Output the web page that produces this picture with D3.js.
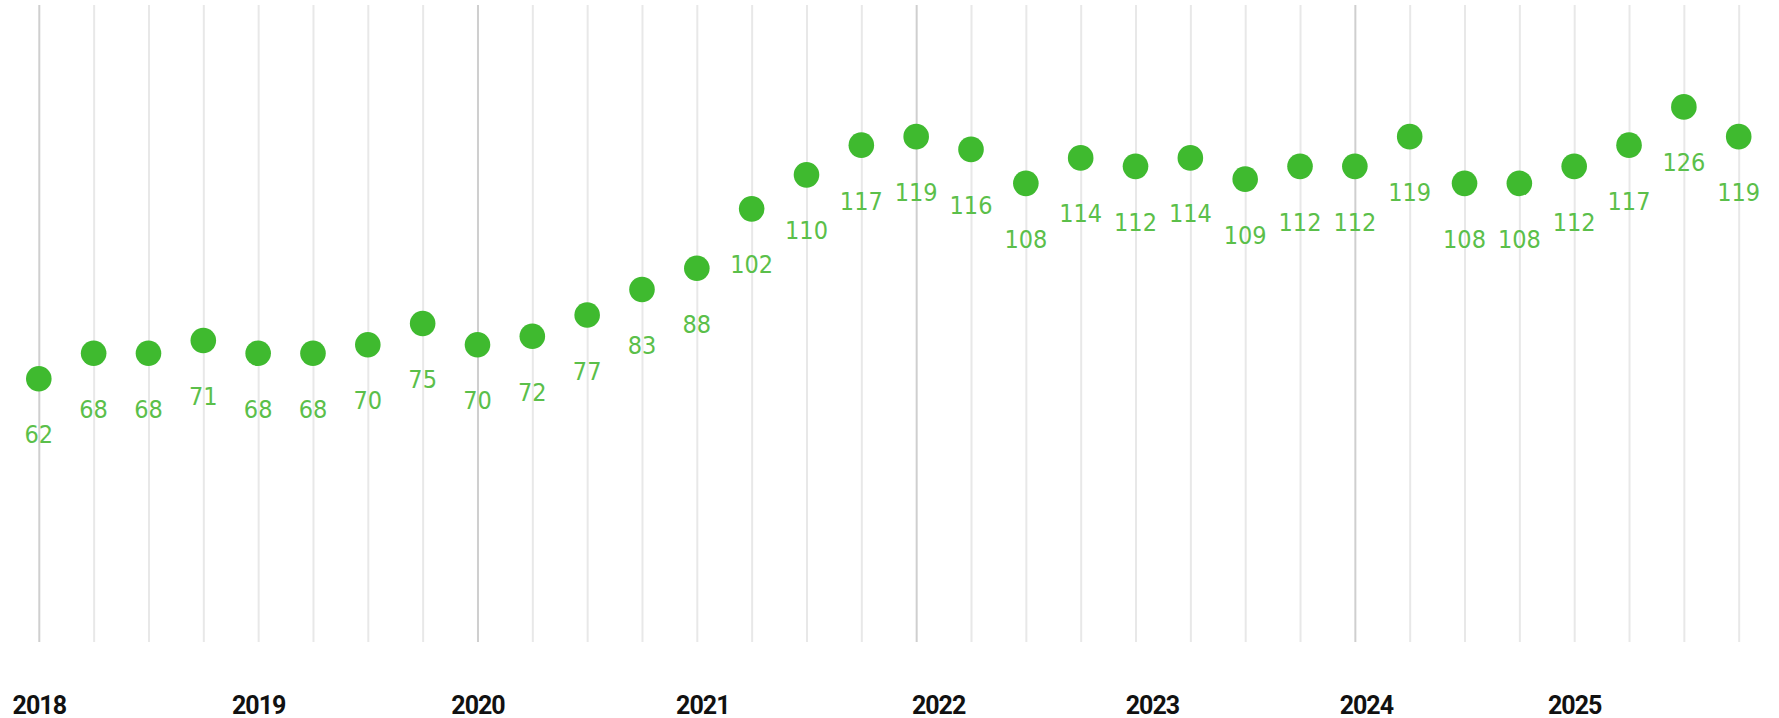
<!DOCTYPE html>
<html>
<head>
<meta charset="utf-8">
<script src="https://d3js.org/d3.v7.min.js"></script>
<style>
	body { margin: 0; background: #fff; }
	svg { display: block; }
	.yearAxis text { font-family: Roboto, "Liberation Sans", sans-serif; font-weight: 700; font-size: 25px; letter-spacing: -1px; fill: #111; }
	.valueLabel { font-family: "DejaVu Sans Condensed", "DejaVu Sans", sans-serif; font-size: 25px; fill: #5bbf4a; }
</style>
</head>
<body>
<script>

// quarterly values, Q1 2018 .. Q4 2025
const values = [
	62, 68, 68, 71, 68, 68, 70, 75, 70, 72, 77, 83, 88,
	102, 110, 117, 119, 116, 108, 114, 112, 114, 109, 112,
	112, 119, 108, 108, 112, 117, 126, 119
];

const years = ["2018", "2019", "2020", "2021", "2022", "2023", "2024", "2025"];
// where each year label sits, in quarter-index units
const yearTickAt = [0, 4, 8, 12.1, 16.4, 20.3, 24.2, 28];

const width = 1779, height = 718;

var xScale = d3.scaleLinear().domain([0, values.length - 1]).range([38.8, 1738.7]);
var yScale = d3.scaleLinear().domain([0, 150]).range([642, 5]);

var svg = d3.select("body")
	.append("svg")
	.attr("width", width)
	.attr("height", height);

// vertical grid, one line per quarter, darker every two years
var gridAxis = d3.axisBottom(xScale)
	.tickValues(d3.range(values.length))
	.tickSize(-(yScale(0) - yScale(150)))
	.tickFormat("");

svg.append("g")
	.attr("class", "grid")
	.attr("transform", "translate(0," + yScale(0) + ")")
	.call(gridAxis)
	.call(g => g.select(".domain").remove())
	.call(g => g.selectAll(".tick line")
		.attr("stroke", (d) => d % 8 === 0 ? "#cfcfcf" : "#e8e8e8")
		.attr("stroke-width", 2));

// year labels
var yearAxis = d3.axisBottom(xScale)
	.tickValues(yearTickAt)
	.tickSize(0)
	.tickFormat((d, i) => years[i]);

svg.append("g")
	.attr("class", "yearAxis")
	.attr("transform", "translate(0,695)")
	.call(yearAxis)
	.call(g => g.select(".domain").remove())
	.call(g => g.selectAll("text")
		.attr("y", 0)
		.attr("dy", "0.74em"));

// points
svg.selectAll("circle.pt")
	.data(values)
	.enter()
	.append("circle")
	.attr("class", "pt")
	.attr("cx", (d, i) => xScale(i))
	.attr("cy", (d) => yScale(d))
	.attr("r", 12.8)
	.attr("fill", "#3fba2f");

// value labels under each point
svg.selectAll("text.valueLabel")
	.data(values)
	.enter()
	.append("text")
	.attr("class", "valueLabel")
	.attr("text-anchor", "middle")
	.attr("x", (d, i) => xScale(i))
	.attr("y", (d) => yScale(d) + 64.5)
	.text((d) => d);

</script>
</body>
</html>
